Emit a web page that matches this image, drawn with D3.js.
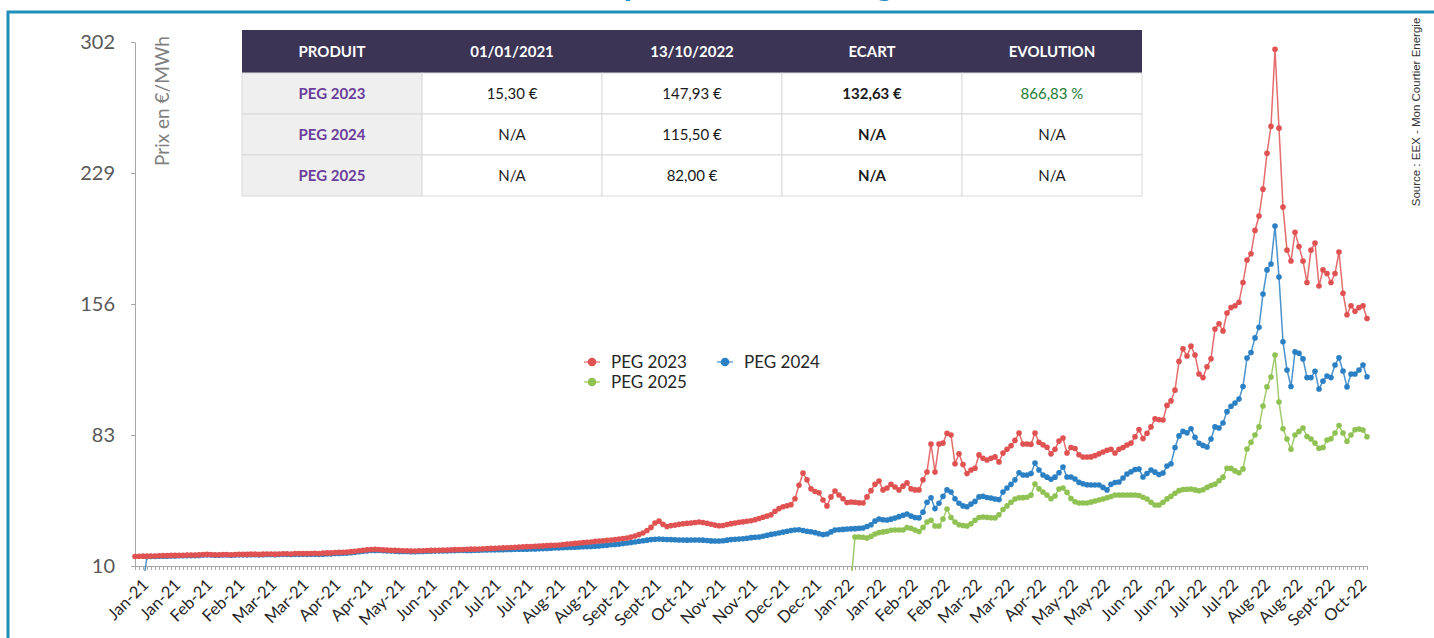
<!DOCTYPE html>
<html>
<head>
<meta charset="utf-8">
<script src="https://cdn.jsdelivr.net/npm/d3@7"></script>
<style>
  body { margin: 0; background: #fff; }
  svg { display: block; font-family: Lato, "Open Sans", sans-serif; }
</style>
</head>
<body>
<div id="container"></div>
<script>
/* DATA : one point every ~3 trading days, 04/01/2021 -> 13/10/2022 */
const xLabels = ["Jan-21","Jan-21","Feb-21","Feb-21","Mar-21","Mar-21","Apr-21","Apr-21","May-21","Jun-21",
  "Jun-21","Jul-21","Jul-21","Aug-21","Aug-21","Sept-21","Sept-21","Oct-21","Nov-21","Nov-21",
  "Dec-21","Dec-21","Jan-22","Jan-22","Feb-22","Feb-22","Mar-22","Mar-22","Apr-22","May-22",
  "May-22","Jun-22","Jun-22","Jul-22","Jul-22","Aug-22","Aug-22","Sept-22","Oct-22"];

const yTicks = [10, 83, 156, 229, 302];

const peg2023 = [
  15.3,15.4,15.5,15.5,15.6,15.6,15.7,15.8,15.8,15.9,
  15.9,16.0,16.0,16.1,16.1,16.1,16.2,16.4,16.5,16.4,
  16.3,16.3,16.4,16.4,16.3,16.4,16.5,16.5,16.5,16.6,
  16.6,16.5,16.6,16.7,16.7,16.6,16.7,16.8,16.8,16.7,
  16.9,16.9,17.0,16.9,17.0,17.1,17.0,17.2,17.3,17.3,
  17.5,17.6,17.7,17.8,18.0,18.2,18.5,18.8,19.0,19.2,
  19.3,19.2,19.0,18.9,18.8,18.7,18.6,18.5,18.5,18.4,
  18.4,18.5,18.5,18.6,18.7,18.8,18.8,18.9,18.9,19.0,
  19.1,19.2,19.2,19.3,19.4,19.4,19.5,19.6,19.7,19.8,
  19.9,20.0,20.1,20.2,20.3,20.4,20.6,20.7,20.8,20.9,
  21.0,21.1,21.2,21.4,21.5,21.6,21.7,22.0,22.2,22.4,
  22.6,22.8,23.0,23.2,23.4,23.7,23.9,24.1,24.3,24.5,
  24.7,25.0,25.3,25.6,26.1,26.7,27.5,28.4,29.8,31.5,
  34.0,35.0,33.2,32.0,32.5,32.8,33.2,33.5,33.8,34.0,
  34.2,34.5,34.2,33.8,33.3,32.8,32.4,32.6,33.1,33.6,
  34.0,34.4,34.6,34.9,35.2,35.8,36.5,37.2,37.8,38.6,
  40.5,42.0,43.0,43.6,44.2,47.5,55.0,61.8,58.0,53.0,
  51.5,50.8,46.8,43.5,48.5,51.8,49.6,47.5,45.4,45.7,
  45.5,45.2,45.1,48.5,52.0,55.5,57.4,52.4,53.5,55.5,
  54.0,52.4,54.5,56.3,53.0,52.4,52.4,58.0,62.4,78.0,
  62.4,78.0,78.5,84.0,83.0,67.0,72.5,66.5,61.5,63.5,
  64.5,71.9,70.0,69.1,70.0,70.8,68.0,72.9,75.0,77.0,
  80.0,84.1,78.0,78.0,77.8,84.1,79.0,77.5,76.2,72.5,
  75.0,79.6,81.3,73.0,76.0,75.5,72.0,70.7,70.7,70.8,
  71.5,72.5,73.5,74.5,75.0,73.0,75.0,76.0,77.4,78.5,
  82.0,86.0,81.0,84.0,87.5,92.0,91.5,91.4,99.5,102.0,
  108.0,124.0,131.0,127.0,132.5,127.6,117.0,115.0,121.0,125.5,
  142.0,145.0,141.0,151.0,154.0,155.0,157.0,168.0,180.5,184.0,
  197.0,205.0,220.0,240.0,255.0,298.0,254.0,210.0,186.0,180.0,
  196.0,188.0,180.0,168.0,186.0,190.0,166.0,175.0,173.0,168.0,
  173.0,185.0,162.0,150.0,155.0,152.0,154.0,155.0,147.93
];

const peg2024Start = 2;
const peg2024 = [
  0,15.2,15.3,15.3,15.4,15.5,15.5,15.6,
  15.6,15.7,15.7,15.8,15.8,15.8,15.9,16.1,16.2,16.1,
  16.0,16.0,16.1,16.1,16.0,16.1,16.2,16.2,16.2,16.3,
  16.3,16.2,16.3,16.4,16.4,16.3,16.4,16.5,16.5,16.4,
  16.5,16.5,16.6,16.5,16.6,16.6,16.5,16.6,16.7,16.7,
  16.9,17.0,17.1,17.2,17.4,17.6,17.9,18.2,18.4,18.6,
  18.7,18.6,18.5,18.4,18.3,18.2,18.1,18.1,18.1,18.0,
  18.0,18.1,18.1,18.2,18.2,18.3,18.3,18.4,18.4,18.5,
  18.5,18.6,18.6,18.7,18.7,18.8,18.8,18.9,18.9,19.0,
  19.0,19.1,19.1,19.2,19.2,19.3,19.3,19.4,19.4,19.5,
  19.5,19.6,19.7,19.8,19.9,20.0,20.1,20.2,20.3,20.4,
  20.5,20.6,20.7,20.8,20.9,21.0,21.2,21.4,21.6,21.8,
  22.0,22.2,22.5,22.8,23.1,23.4,23.8,24.1,24.4,24.7,
  24.9,25.0,24.9,24.8,24.7,24.6,24.5,24.5,24.4,24.5,
  24.5,24.5,24.4,24.2,24.0,23.9,23.9,24.1,24.4,24.7,
  24.9,25.0,25.2,25.5,25.8,26.0,26.2,26.6,27.1,27.6,
  28.0,28.4,28.9,29.4,29.8,30.1,30.2,29.8,29.4,29.1,
  28.6,28.0,27.5,27.8,29.0,30.0,30.2,30.4,30.6,30.7,
  30.8,31.0,31.2,32.0,33.0,35.0,36.2,35.8,35.6,36.1,
  36.7,37.5,38.2,39.0,37.8,37.0,36.8,40.0,45.5,48.0,
  42.0,45.0,48.8,52.4,51.2,47.5,45.0,43.5,43.0,44.5,
  46.0,48.5,48.8,48.2,47.9,47.3,47.0,51.2,53.5,55.5,
  58.0,62.0,60.7,60.7,61.5,67.4,63.5,60.7,59.5,58.3,
  59.5,62.0,65.2,59.6,59.6,58.5,56.6,55.8,55.3,55.1,
  55.1,55.1,53.8,52.4,55.5,56.5,56.8,59.0,61.3,62.5,
  63.8,64.0,59.6,61.5,63.5,62.3,61.0,61.8,65.7,67.0,
  76.0,82.5,85.0,84.2,86.5,81.7,78.4,77.2,76.3,80.8,
  87.5,86.9,89.7,96.0,99.0,100.8,103.0,110.0,125.9,129.0,
  137.1,143.0,161.6,175.0,178.3,199.5,171.0,135.0,119.2,110.0,
  129.3,128.5,125.4,115.0,115.0,118.5,108.6,113.0,115.9,115.0,
  122.0,126.0,118.7,109.8,117.0,117.0,119.2,122.0,115.5
];

const peg2025Start = 179;
const peg2025 = [
  0,
  26.2,26.2,26.0,25.6,26.5,27.8,28.6,29.0,29.4,29.9,
  30.1,30.1,30.1,31.4,31.0,30.0,29.2,31.5,34.5,35.5,
  32.3,32.3,36.2,41.8,37.0,34.5,33.0,32.6,32.3,33.5,
  35.5,37.0,37.3,37.1,36.9,36.8,38.5,41.5,43.5,45.5,
  47.3,48.0,48.1,48.3,49.5,55.7,53.0,51.2,49.5,47.5,
  49.0,52.9,53.4,51.0,47.6,45.8,45.1,45.1,45.1,45.6,
  46.2,46.8,47.3,48.0,48.7,49.6,49.6,49.6,49.6,49.6,
  49.6,49.3,48.3,47.3,45.5,44.0,44.0,45.5,47.4,48.8,
  50.5,52.0,52.6,52.8,52.9,52.4,51.9,52.5,53.8,54.8,
  55.6,57.5,59.5,64.5,64.4,63.0,62.0,64.1,75.2,78.9,
  83.0,87.5,99.2,109.8,115.3,127.6,101.4,86.5,80.8,75.0,
  83.0,85.0,86.9,82.2,80.8,78.5,75.6,76.0,80.2,80.9,
  84.1,88.3,84.1,79.5,83.0,85.9,86.3,85.8,82.0
];

/* TABLE */
const tableHeader = ["PRODUIT", "01/01/2021", "13/10/2022", "ECART", "EVOLUTION"];
const tableProducts = ["PEG 2023", "PEG 2024", "PEG 2025"];
const tablePrix2021 = ["15,30 €", "N/A", "N/A"];
const tablePrix2022 = ["147,93 €", "115,50 €", "82,00 €"];
const tableEcart = ["132,63 €", "N/A", "N/A"];
const tableEvolution = ["866,83 %", "N/A", "N/A"];

const series = [
  {name: "PEG 2025", values: peg2025, start: peg2025Start, color: "#8fc253"},
  {name: "PEG 2024", values: peg2024, start: peg2024Start, color: "#2b80c3"},
  {name: "PEG 2023", values: peg2023, start: 0, color: "#e05252"}
];

/* SVG */
const W = 1434, H = 638;
const svg = d3.select("#container").append("svg")
    .attr("width", W)
    .attr("height", H);

svg.append("rect").attr("width", W).attr("height", H).attr("fill", "#fff");

/* TITLE (only its lowest part shows at the top of the picture) */
svg.append("text")
    .attr("x", 398)
    .attr("y", -5)
    .attr("fill", "#1a8fc0")
    .style("font-size", "36px")
    .style("font-weight", "bold")
    .text("Evolution des prix à terme du gaz naturel");

/* FRAME */
svg.append("path")
    .attr("d", "M8," + H + "V12H" + W)
    .attr("fill", "none")
    .attr("stroke", "#1f8fb8")
    .attr("stroke-width", 3);

/* SCALES */
const x = d3.scaleLinear().domain([0, peg2023.length - 1]).range([135, 1367]);
const y = d3.scaleLinear().domain([10, 302]).range([566, 42]);
const xl = d3.scalePoint().domain(d3.range(xLabels.length)).range([141, 1359]);

/* AXES */
const yAxis = svg.append("g")
    .attr("transform", "translate(135,0)")
    .call(d3.axisLeft(y).tickValues(yTicks).tickSize(4).tickSizeOuter(0).tickPadding(16));
yAxis.select(".domain").attr("stroke", "#a6a6a6");
yAxis.selectAll(".tick line").attr("stroke", "#a6a6a6");
yAxis.selectAll(".tick text")
    .attr("fill", "#595959")
    .style("font-size", "20px")
    .style("font-family", "Lato, sans-serif");

const xAxis = svg.append("g")
    .attr("transform", "translate(0,566)")
    .call(d3.axisBottom(x).tickValues(d3.range(peg2023.length)).tickSize(4).tickSizeOuter(0).tickFormat(""));
xAxis.select(".domain").attr("stroke", "#a6a6a6");
xAxis.selectAll(".tick line").attr("stroke", "#a6a6a6");

const xLab = svg.append("g")
    .attr("transform", "translate(0,566)")
    .call(d3.axisBottom(xl).tickSize(0).tickFormat(i => xLabels[i]));
xLab.select(".domain").remove();
xLab.selectAll(".tick text")
    .attr("fill", "#262626")
    .attr("x", 0).attr("y", 0).attr("dy", 0)
    .attr("text-anchor", "end")
    .attr("transform", "translate(8,20) rotate(-45)")
    .style("font-size", "16.5px")
    .style("font-family", "Lato, sans-serif");

/* Y-AXIS LABEL */
svg.append("text")
    .attr("transform", "translate(169,101) rotate(-90)")
    .attr("text-anchor", "middle")
    .attr("fill", "#7f7f7f")
    .style("font-size", "19px")
    .text("Prix en €/MWh");

/* SOURCE */
svg.append("text")
    .attr("transform", "translate(1420,112) rotate(-90)")
    .attr("text-anchor", "middle")
    .attr("fill", "#333")
    .style("font-size", "11.5px")
    .style("font-family", "'Liberation Sans', Arial, sans-serif")
    .text("Source : EEX - Mon Courtier Energie");

/* LINES */
svg.append("clipPath").attr("id", "plot")
  .append("rect").attr("x", 125).attr("y", 30).attr("width", 1260).attr("height", 541);

const plot = svg.append("g").attr("clip-path", "url(#plot)");

const line = d3.line()
    .x(d => x(d.i))
    .y(d => y(d.v));

series.forEach(s => {
  const pts = s.values.map((v, k) => ({i: k + s.start, v: v}));
  plot.append("path")
      .datum(pts)
      .attr("fill", "none")
      .attr("stroke", s.color)
      .attr("stroke-opacity", 0.85)
      .attr("stroke-width", 1.5)
      .attr("d", line);
  plot.append("g")
    .selectAll("circle")
    .data(pts.filter(d => d.v > 0))
    .join("circle")
      .attr("cx", d => x(d.i))
      .attr("cy", d => y(d.v))
      .attr("r", 2.8)
      .attr("fill", s.color);
});

/* LEGEND */
const legendItems = [
  {name: "PEG 2023", color: "#e05252", lx: 592, ly: 362},
  {name: "PEG 2024", color: "#2b80c3", lx: 725, ly: 362},
  {name: "PEG 2025", color: "#8fc253", lx: 592, ly: 382}
];
const lg = svg.append("g").selectAll("g").data(legendItems).join("g")
    .attr("transform", d => "translate(" + d.lx + "," + d.ly + ")");
lg.append("line").attr("x1", -8).attr("x2", 8)
    .attr("stroke", d => d.color).attr("stroke-width", 1.5).attr("stroke-opacity", 0.7);
lg.append("circle").attr("r", 4.3).attr("fill", d => d.color);
lg.append("text").attr("x", 19).attr("dy", "0.35em")
    .attr("fill", "#262626")
    .style("font-size", "17px")
    .text(d => d.name);

/* TABLE */
const col = d3.scaleBand().domain(d3.range(tableHeader.length)).range([242, 1142]);
const rowY = d3.scaleBand().domain(d3.range(tableProducts.length)).range([73, 196]);
const rows = tableProducts.map((p, k) => [p, tablePrix2021[k], tablePrix2022[k], tableEcart[k], tableEvolution[k]]);

const table = svg.append("g");
table.append("rect")
    .attr("x", col(0)).attr("y", 30)
    .attr("width", col.bandwidth() * tableHeader.length).attr("height", 43)
    .attr("fill", "#3b3454");
table.selectAll(".head").data(tableHeader).join("text")
    .attr("class", "head")
    .attr("x", (d, k) => col(k) + col.bandwidth() / 2)
    .attr("y", 52)
    .attr("dy", "0.35em")
    .attr("text-anchor", "middle")
    .attr("fill", "#fff")
    .style("font-size", "15px")
    .style("font-weight", "bold")
    .text(d => d);

const tr = table.selectAll(".row").data(rows).join("g")
    .attr("class", "row")
    .attr("transform", (d, k) => "translate(0," + rowY(k) + ")");
tr.selectAll("rect").data(d => d).join("rect")
    .attr("x", (d, k) => col(k))
    .attr("width", col.bandwidth())
    .attr("height", rowY.bandwidth())
    .attr("fill", (d, k) => k === 0 ? "#efefef" : "#fff")
    .attr("stroke", "#d9d9d9")
    .attr("stroke-width", 1);
tr.selectAll("text").data(d => d).join("text")
    .attr("x", (d, k) => col(k) + col.bandwidth() / 2)
    .attr("y", rowY.bandwidth() / 2)
    .attr("dy", "0.35em")
    .attr("text-anchor", "middle")
    .attr("fill", (d, k) => k === 0 ? "#6a3d9a" : (k === 4 && d !== "N/A" ? "#1e7b34" : "#1a1a1a"))
    .style("font-size", "15px")
    .style("font-weight", (d, k) => (k === 0 || k === 3) ? "bold" : "normal")
    .text(d => d);
</script>
</body>
</html>
